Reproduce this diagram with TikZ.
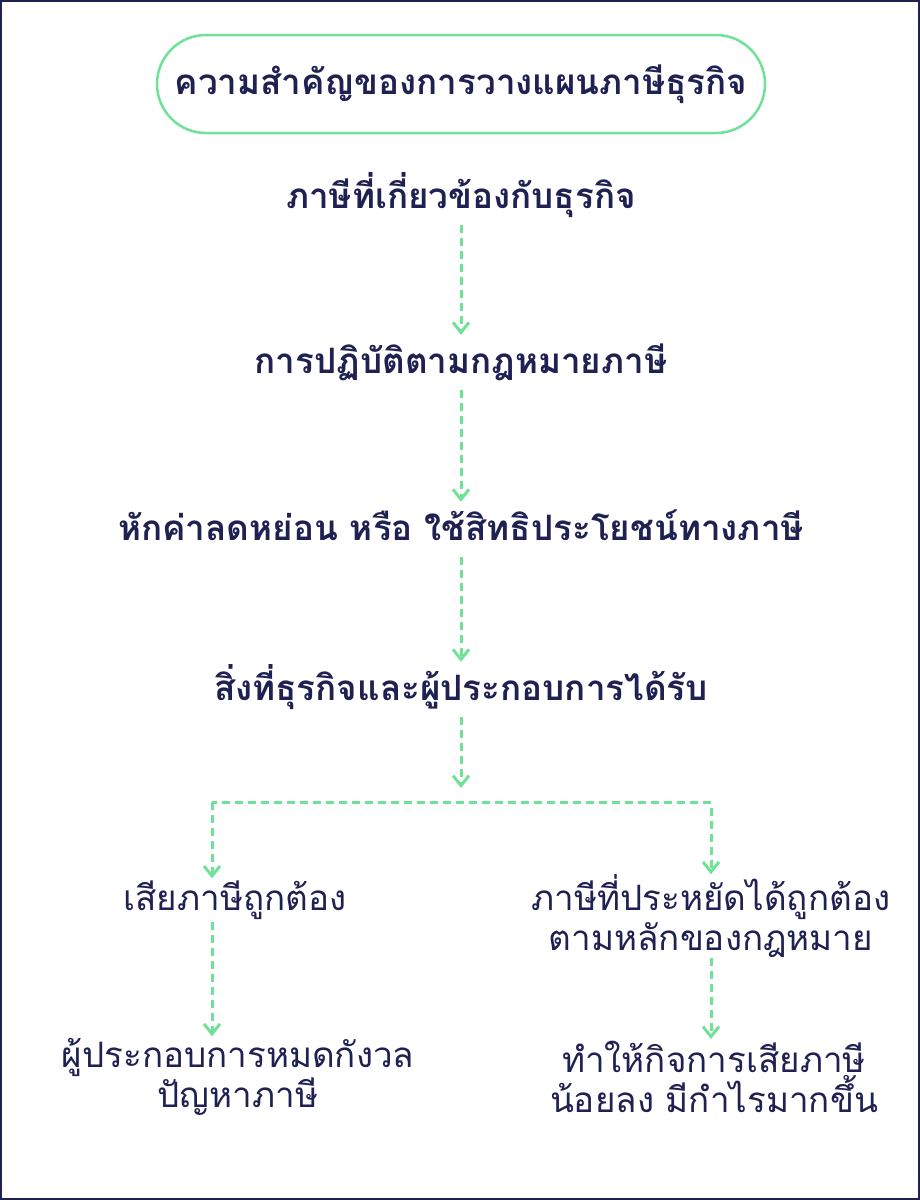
\documentclass[tikz,border=0pt]{standalone}
\usepackage{fontspec}
\newfontfamily\thaifont[Script=Thai]{Loma}
\usetikzlibrary{arrows.meta}
\usetikzlibrary{positioning}
\definecolor{mnavy}{RGB}{31, 33, 82}
\definecolor{mgreen}{RGB}{112, 226, 152}

\tikzset{
    stage/.style={font=\thaifont\bfseries\fontsize{35}{40}\selectfont, text=mnavy, inner sep=0pt, anchor=base, text height=38pt, text depth=17pt},
    result/.style={font=\thaifont\fontsize{35}{40}\selectfont, text=mnavy, inner sep=0pt, align=center},
    headbox/.style={draw=mgreen, line width=2.5pt, rounded corners=49pt, minimum width=608pt, minimum height=98pt, font=\thaifont\bfseries\fontsize{35}{40}\selectfont, text=mnavy},
    flowline/.style={draw=mgreen, line width=3pt, dash pattern=on 8pt off 5pt},
    flow/.style={flowline, -{Straight Barb[length=10pt, width=16pt, line width=3pt]}}
}

\begin{document}
\begin{tikzpicture}[x=1pt, y=-1pt]
    \useasboundingbox (0, 0) rectangle (920, 1200);
    \draw [mnavy, line width=2pt] (1, 1) rectangle (919, 1199);

    \node [headbox] (title) at (461, 84) {ความสำคัญของการวางแผนภาษีธุรกิจ};

    \node [stage] (taxes) at (461, 208) {ภาษีที่เกี่ยวข้องกับธุรกิจ};
    \node [stage] (law) at (461, 373) {การปฏิบัติตามกฎหมายภาษี};
    \node [stage] (relief) at (461, 540) {หักค่าลดหย่อน หรือ ใช้สิทธิประโยชน์ทางภาษี};
    \node [stage] (gain) at (461, 700) {สิ่งที่ธุรกิจและผู้ประกอบการได้รับ};

    \coordinate (fork) at (461, 802);
    \coordinate (forkL) at (212, 802);
    \coordinate (forkR) at (711, 802);

    \node [result] (paid) at (235, 900) {เสียภาษีถูกต้อง};
    \node [result] (saving) at (711, 916) {ภาษีที่ประหยัดได้ถูกต้อง\\ตามหลักของกฎหมาย};
    \node [result] (calm) at (238, 1077) {ผู้ประกอบการหมดกังวล\\ปัญหาภาษี};
    \node [result] (profit) at (714, 1077) {ทำให้กิจการเสียภาษี\\น้อยลง มีกำไรมากขึ้น};

    \draw [flow] (taxes.south) -- (law.north);
    \draw [flow] (law.south) -- (relief.north);
    \draw [flow] (relief.south) -- (gain.north);
    \draw [flow, shorten >=14pt] (gain.south) -- (fork);
    \draw [flowline] (forkR) -- (forkL);
    \draw [flow, shorten >=2pt] (forkL) -- (paid.north -| forkL);
    \draw [flow, shorten <=6pt] (forkR) -- (saving.north -| forkR);
    \draw [flow, shorten <=2pt, shorten >=2pt] (paid.south -| forkL) -- (calm.north -| forkL);
    \draw [flow, shorten <=0pt, shorten >=2pt] (saving.south -| forkR) -- (profit.north -| forkR);
\end{tikzpicture}
\end{document}
